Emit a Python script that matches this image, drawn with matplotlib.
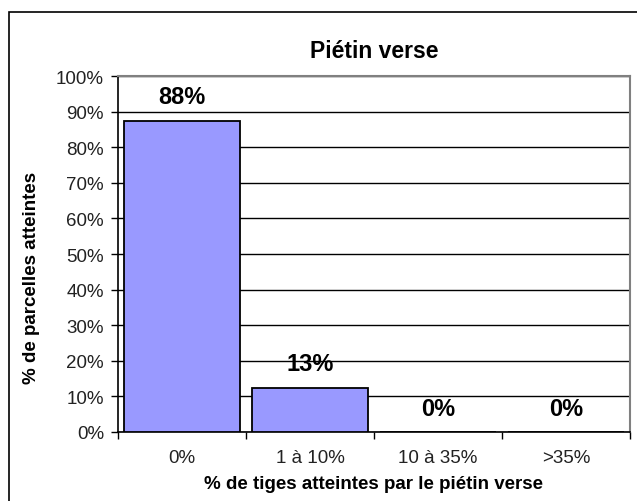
import matplotlib
matplotlib.use("Agg")
import matplotlib.pyplot as plt
from matplotlib.patches import Rectangle
from matplotlib.ticker import FixedLocator, NullFormatter

plt.rcParams['font.family'] = ['Liberation Sans', 'DejaVu Sans']

categories = ["0%", "1 à 10%", "10 à 35%", ">35%"]
values = [87.5, 12.5, 0, 0]
labels = ["88%", "13%", "0%", "0%"]

fig = plt.figure(figsize=(6.37, 5.02), dpi=100)

# cadre autour du graphique
fig.patches.append(Rectangle((9 / 637, -0.05), 1.0, 1 - 13 / 502 + 0.05,
                             transform=fig.transFigure, fill=False,
                             edgecolor='black', linewidth=1.2))

ax = fig.add_axes([118 / 637, 1 - 433 / 502, (630 - 118) / 637, (433 - 77) / 502])

x = range(len(categories))
ax.bar(x, values, width=0.91, color='#9999FF', edgecolor='black', linewidth=1.3, zorder=3)

for i, v in enumerate(values):
    ax.annotate(labels[i], (i, v), xytext=(0, 17), textcoords='offset points',
                ha='center', va='center', fontsize=17, fontweight='bold')

ax.set_ylim(0, 100)
ax.set_xlim(-0.5, 3.5)
ax.set_yticks(range(0, 101, 10))
ax.set_yticklabels([f"{t}%" for t in range(0, 101, 10)], fontsize=13.5, color='#222222')
ax.yaxis.grid(True, color='black', linewidth=1.0, zorder=0)

ax.xaxis.set_major_locator(FixedLocator([-0.5, 0.5, 1.5, 2.5, 3.5]))
ax.xaxis.set_major_formatter(NullFormatter())
ax.xaxis.set_minor_locator(FixedLocator(list(x)))
ax.set_xticklabels(categories, minor=True, fontsize=13.5, color='#222222')
ax.tick_params(axis='x', which='minor', length=0, pad=12)
ax.tick_params(axis='x', which='major', length=5, width=1, direction='out')
ax.tick_params(axis='y', length=5, width=1, direction='out', pad=5)

for s in ['top', 'right']:
    ax.spines[s].set_color('#808080')
    ax.spines[s].set_linewidth(1.5)
ax.spines['left'].set_linewidth(1.2)
ax.spines['bottom'].set_linewidth(1.2)

ax.set_title("Piétin verse", fontsize=16.5, fontweight='bold', pad=14)
ax.set_xlabel("% de tiges atteintes par le piétin verse", fontsize=13.5, fontweight='bold')
ax.xaxis.set_label_coords(0.5, -0.145)
ax.xaxis.label.set_va('center')
ax.set_ylabel("% de parcelles atteintes", fontsize=13.5, fontweight='bold')
ax.yaxis.set_label_coords(-0.168, 0.435)
ax.yaxis.label.set_va('center')

fig.savefig("out.png", dpi=100)
